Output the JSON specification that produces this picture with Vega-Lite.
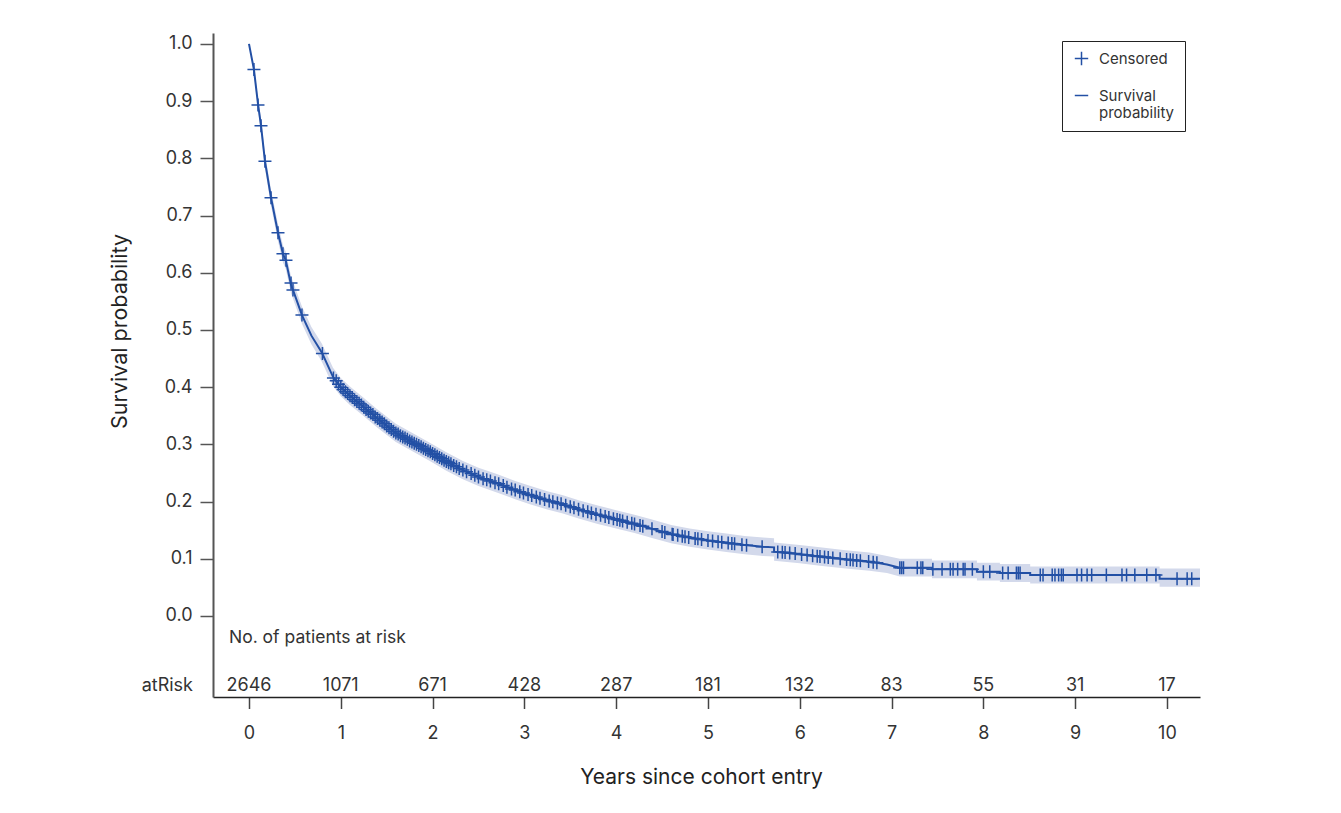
{
 "$schema": "https://vega.github.io/schema/vega-lite/v6.json",
 "width": 987,
 "height": 664,
 "autosize": {"type": "none"},
 "padding": {"left": 213, "top": 33, "right": 141, "bottom": 116},
 "background": "white",
 "config": {"view": {"stroke": null}, "font": "Inter", "text": {"font": "Inter"}},
 "datasets": {
  "km": [
   {"t":0,"s":1,"lo":1,"hi":1},
   {"t":0.054,"s":0.955,"lo":0.948,"hi":0.962},
   {"t":0.098,"s":0.895,"lo":0.885,"hi":0.905},
   {"t":0.131,"s":0.857,"lo":0.845,"hi":0.869},
   {"t":0.174,"s":0.795,"lo":0.782,"hi":0.808},
   {"t":0.24,"s":0.731,"lo":0.717,"hi":0.745},
   {"t":0.316,"s":0.67,"lo":0.655,"hi":0.685},
   {"t":0.37,"s":0.633,"lo":0.618,"hi":0.648},
   {"t":0.4,"s":0.622,"lo":0.607,"hi":0.637},
   {"t":0.458,"s":0.579,"lo":0.564,"hi":0.594},
   {"t":0.479,"s":0.57,"lo":0.555,"hi":0.585},
   {"t":0.577,"s":0.526,"lo":0.511,"hi":0.541},
   {"t":0.68,"s":0.49,"lo":0.475,"hi":0.505},
   {"t":0.795,"s":0.46,"lo":0.444,"hi":0.476},
   {"t":0.915,"s":0.418,"lo":0.402,"hi":0.434},
   {"t":1.0,"s":0.4,"lo":0.384,"hi":0.416},
   {"t":1.1,"s":0.385,"lo":0.369,"hi":0.401},
   {"t":1.245,"s":0.366,"lo":0.35,"hi":0.382},
   {"t":1.4,"s":0.345,"lo":0.329,"hi":0.361},
   {"t":1.6,"s":0.32,"lo":0.304,"hi":0.336},
   {"t":1.8,"s":0.302,"lo":0.286,"hi":0.318},
   {"t":1.97,"s":0.287,"lo":0.271,"hi":0.303},
   {"t":2.15,"s":0.27,"lo":0.254,"hi":0.286},
   {"t":2.33,"s":0.255,"lo":0.239,"hi":0.271},
   {"t":2.5,"s":0.243,"lo":0.227,"hi":0.259},
   {"t":2.7,"s":0.232,"lo":0.216,"hi":0.248},
   {"t":2.9,"s":0.22,"lo":0.204,"hi":0.236},
   {"t":3.06,"s":0.2115,"lo":0.1955,"hi":0.2275},
   {"t":3.25,"s":0.202,"lo":0.186,"hi":0.218},
   {"t":3.42,"s":0.195,"lo":0.179,"hi":0.211},
   {"t":3.6,"s":0.186,"lo":0.17,"hi":0.202},
   {"t":3.8,"s":0.177,"lo":0.161,"hi":0.193},
   {"t":4.0,"s":0.169,"lo":0.153,"hi":0.185},
   {"t":4.2,"s":0.161,"lo":0.145,"hi":0.177},
   {"t":4.4,"s":0.152,"lo":0.136,"hi":0.168},
   {"t":4.6,"s":0.143,"lo":0.127,"hi":0.159},
   {"t":4.8,"s":0.137,"lo":0.121,"hi":0.153},
   {"t":5.0,"s":0.132,"lo":0.116,"hi":0.148},
   {"t":5.2,"s":0.128,"lo":0.112,"hi":0.144},
   {"t":5.4,"s":0.124,"lo":0.108,"hi":0.14},
   {"t":5.6,"s":0.121,"lo":0.105,"hi":0.137},
   {"t":5.72,"s":0.12,"lo":0.104,"hi":0.136},
   {"t":5.72,"s":0.1125,"lo":0.0965,"hi":0.1285},
   {"t":6.0,"s":0.108,"lo":0.092,"hi":0.124},
   {"t":6.22,"s":0.104,"lo":0.088,"hi":0.12},
   {"t":6.5,"s":0.099,"lo":0.083,"hi":0.115},
   {"t":6.76,"s":0.095,"lo":0.079,"hi":0.111},
   {"t":6.95,"s":0.09,"lo":0.075,"hi":0.105},
   {"t":7.09,"s":0.0845,"lo":0.069,"hi":0.1},
   {"t":7.44,"s":0.0845,"lo":0.069,"hi":0.1},
   {"t":7.44,"s":0.0815,"lo":0.066,"hi":0.097},
   {"t":7.93,"s":0.0815,"lo":0.066,"hi":0.097},
   {"t":7.93,"s":0.0775,"lo":0.062,"hi":0.093},
   {"t":8.18,"s":0.0775,"lo":0.062,"hi":0.093},
   {"t":8.18,"s":0.0752,"lo":0.0595,"hi":0.0909},
   {"t":8.51,"s":0.0752,"lo":0.0595,"hi":0.0909},
   {"t":8.51,"s":0.0717,"lo":0.057,"hi":0.0865},
   {"t":9.92,"s":0.0717,"lo":0.057,"hi":0.0865},
   {"t":9.92,"s":0.0652,"lo":0.051,"hi":0.083},
   {"t":10.36,"s":0.0652,"lo":0.051,"hi":0.083}
  ],
  "censor": [
   {"t":0.054,"s":0.955},{"t":0.098,"s":0.893},{"t":0.131,"s":0.857},{"t":0.174,"s":0.795},
   {"t":0.24,"s":0.731},{"t":0.316,"s":0.67},{"t":0.37,"s":0.633},{"t":0.403,"s":0.622},
   {"t":0.458,"s":0.582},{"t":0.479,"s":0.57},{"t":0.577,"s":0.526},{"t":0.8,"s":0.459},
   {"t":0.92,"s":0.416},{"t":0.95,"s":0.411},{"t":0.975,"s":0.405},{"t":1.0,"s":0.4},
   {"t":1.025,"s":0.396},{"t":1.05,"s":0.392},{"t":1.075,"s":0.389},{"t":1.1,"s":0.385},
   {"t":1.125,"s":0.382},{"t":1.15,"s":0.378},{"t":1.175,"s":0.375},{"t":1.2,"s":0.372},
   {"t":1.225,"s":0.369},{"t":1.25,"s":0.365},{"t":1.275,"s":0.361},{"t":1.3,"s":0.358},
   {"t":1.325,"s":0.355},{"t":1.35,"s":0.352},{"t":1.375,"s":0.348},{"t":1.4,"s":0.345},
   {"t":1.425,"s":0.342},{"t":1.45,"s":0.339},{"t":1.475,"s":0.336},{"t":1.5,"s":0.332},
   {"t":1.525,"s":0.329},{"t":1.55,"s":0.326},{"t":1.575,"s":0.323},{"t":1.6,"s":0.32},
   {"t":1.625,"s":0.318},{"t":1.65,"s":0.315},{"t":1.675,"s":0.313},{"t":1.7,"s":0.311},
   {"t":1.725,"s":0.309},{"t":1.75,"s":0.306},{"t":1.775,"s":0.304},{"t":1.8,"s":0.302},
   {"t":1.825,"s":0.3},{"t":1.85,"s":0.298},{"t":1.875,"s":0.296},{"t":1.9,"s":0.293},
   {"t":1.925,"s":0.291},{"t":1.95,"s":0.289},{"t":1.975,"s":0.287},{"t":2.0,"s":0.284},
   {"t":2.025,"s":0.282},{"t":2.05,"s":0.279},{"t":2.075,"s":0.277},{"t":2.1,"s":0.275},
   {"t":2.125,"s":0.272},{"t":2.15,"s":0.27},{"t":2.175,"s":0.268},{"t":2.2,"s":0.266},
   {"t":2.23,"s":0.263},{"t":2.26,"s":0.261},{"t":2.29,"s":0.258},{"t":2.33,"s":0.255},
   {"t":2.37,"s":0.252},{"t":2.42,"s":0.249},{"t":2.46,"s":0.246},{"t":2.5,"s":0.243},
   {"t":2.55,"s":0.24},{"t":2.59,"s":0.238},{"t":2.63,"s":0.236},{"t":2.68,"s":0.233},
   {"t":2.72,"s":0.231},{"t":2.77,"s":0.228},{"t":2.81,"s":0.225},{"t":2.86,"s":0.222},
   {"t":2.9,"s":0.22},{"t":2.95,"s":0.217},{"t":2.99,"s":0.215},{"t":3.04,"s":0.2125},
   {"t":3.08,"s":0.2105},{"t":3.13,"s":0.208},{"t":3.17,"s":0.206},{"t":3.22,"s":0.2035},
   {"t":3.27,"s":0.201},{"t":3.31,"s":0.1995},{"t":3.36,"s":0.1975},{"t":3.4,"s":0.196},
   {"t":3.45,"s":0.1935},{"t":3.5,"s":0.191},{"t":3.54,"s":0.189},{"t":3.59,"s":0.1865},
   {"t":3.64,"s":0.184},{"t":3.69,"s":0.182},{"t":3.73,"s":0.18},{"t":3.78,"s":0.178},
   {"t":3.83,"s":0.176},{"t":3.88,"s":0.174},{"t":3.92,"s":0.172},{"t":3.97,"s":0.17},
   {"t":4.01,"s":0.1685},{"t":4.04,"s":0.1675},{"t":4.07,"s":0.166},{"t":4.12,"s":0.164},
   {"t":4.17,"s":0.162},{"t":4.2,"s":0.161},{"t":4.26,"s":0.158},{"t":4.29,"s":0.157},
   {"t":4.39,"s":0.1525},{"t":4.5,"s":0.1475},{"t":4.53,"s":0.146},{"t":4.61,"s":0.1427},
   {"t":4.62,"s":0.1424},{"t":4.67,"s":0.141},{"t":4.72,"s":0.1395},{"t":4.75,"s":0.1385},
   {"t":4.79,"s":0.1373},{"t":4.86,"s":0.1355},{"t":4.89,"s":0.1348},{"t":4.93,"s":0.1338},
   {"t":5.0,"s":0.132},{"t":5.05,"s":0.131},{"t":5.11,"s":0.1298},{"t":5.15,"s":0.129},
   {"t":5.22,"s":0.1276},{"t":5.26,"s":0.1268},{"t":5.29,"s":0.1262},{"t":5.37,"s":0.1245},
   {"t":5.42,"s":0.1237},{"t":5.59,"s":0.1212},{"t":5.76,"s":0.1119},{"t":5.81,"s":0.1112},
   {"t":5.84,"s":0.1108},{"t":5.89,"s":0.11},{"t":5.95,"s":0.1092},{"t":6.02,"s":0.1076},
   {"t":6.08,"s":0.1065},{"t":6.14,"s":0.1055},{"t":6.19,"s":0.1045},{"t":6.22,"s":0.104},
   {"t":6.27,"s":0.103},{"t":6.31,"s":0.1023},{"t":6.36,"s":0.1015},{"t":6.44,"s":0.1},
   {"t":6.51,"s":0.0989},{"t":6.55,"s":0.0982},{"t":6.58,"s":0.0977},{"t":6.62,"s":0.0971},
   {"t":6.66,"s":0.0965},{"t":6.75,"s":0.0952},{"t":6.8,"s":0.094},{"t":6.84,"s":0.093},
   {"t":7.09,"s":0.0845},{"t":7.11,"s":0.0845},{"t":7.13,"s":0.0845},{"t":7.28,"s":0.0845},
   {"t":7.32,"s":0.0845},{"t":7.34,"s":0.0845},{"t":7.45,"s":0.0815},{"t":7.55,"s":0.0815},
   {"t":7.64,"s":0.0815},{"t":7.67,"s":0.0815},{"t":7.72,"s":0.0815},{"t":7.78,"s":0.0815},
   {"t":7.8,"s":0.0815},{"t":7.88,"s":0.0815},{"t":8.0,"s":0.0775},{"t":8.07,"s":0.0775},
   {"t":8.21,"s":0.0752},{"t":8.27,"s":0.0752},{"t":8.36,"s":0.0752},{"t":8.38,"s":0.0752},
   {"t":8.4,"s":0.0752},{"t":8.62,"s":0.0717},{"t":8.65,"s":0.0717},{"t":8.75,"s":0.0717},
   {"t":8.78,"s":0.0717},{"t":8.82,"s":0.0717},{"t":8.85,"s":0.0717},{"t":8.87,"s":0.0717},
   {"t":9.02,"s":0.0717},{"t":9.07,"s":0.0717},{"t":9.13,"s":0.0717},{"t":9.18,"s":0.0717},
   {"t":9.34,"s":0.0717},{"t":9.51,"s":0.0717},{"t":9.56,"s":0.0717},{"t":9.65,"s":0.0717},
   {"t":9.78,"s":0.0717},{"t":9.88,"s":0.0717},{"t":10.11,"s":0.0652},{"t":10.22,"s":0.0652},
   {"t":10.27,"s":0.0652}
  ],
  "risk": [
   {"t":0,"n":2646},{"t":1,"n":1071},{"t":2,"n":671},{"t":3,"n":428},{"t":4,"n":287},
   {"t":5,"n":181},{"t":6,"n":132},{"t":7,"n":83},{"t":8,"n":55},{"t":9,"n":31},{"t":10,"n":17}
  ]
 },
 "layer": [
  {
   "data": {"name": "km"},
   "mark": {"type": "area", "color": "#d3d9eb", "opacity": 1},
   "encoding": {
    "x": {"field": "t", "type": "quantitative",
     "scale": {"domain": [-0.392, 10.36], "nice": false, "zero": false},
     "axis": {"title": "Years since cohort entry", "values": [0,1,2,3,4,5,6,7,8,9,10], "format": "d", "grid": false,
      "labelFontSize": 18, "labelColor": "#333", "labelBaseline": "alphabetic", "labelPadding": 30,
      "tickSize": 11.5, "tickColor": "#444", "tickWidth": 1.5, "domainColor": "#222", "domainWidth": 1.5,
      "titleFontSize": 21, "titleFontWeight": "normal", "titleColor": "#222",
      "titleX": 488, "titleY": 86, "titleBaseline": "alphabetic", "titleAlign": "center"}},
    "y": {"field": "lo", "type": "quantitative",
     "scale": {"domain": [-0.1416, 1.019], "nice": false, "zero": false},
     "axis": {"title": "Survival probability", "values": [0,0.1,0.2,0.3,0.4,0.5,0.6,0.7,0.8,0.9,1.0], "format": ".1f", "grid": false,
      "labelFontSize": 18, "labelColor": "#333", "labelPadding": 8,
      "tickSize": 13, "tickColor": "#555", "tickWidth": 1.5, "domainColor": "#555", "domainWidth": 2,
      "titleFontSize": 21.5, "titleFontWeight": "normal", "titleColor": "#222",
      "titleX": -93, "titleY": 298, "titleAngle": -90, "titleAlign": "center", "titleBaseline": "middle"}},
    "y2": {"field": "hi"}
   }
  },
  {
   "data": {"name": "km"},
   "mark": {"type": "line", "color": "#2350a5", "strokeWidth": 2},
   "encoding": {
    "x": {"field": "t", "type": "quantitative"},
    "y": {"field": "s", "type": "quantitative"}
   }
  },
  {
   "data": {"name": "censor"},
   "transform": [{"calculate": "'Censored'", "as": "type"}],
   "mark": {"type": "point", "filled": false, "strokeWidth": 1.5, "size": 169, "color": "#2350a5", "opacity": 1},
   "encoding": {
    "x": {"field": "t", "type": "quantitative"},
    "y": {"field": "s", "type": "quantitative"},
    "shape": {"field": "type", "type": "nominal",
     "scale": {"domain": ["Censored", "Survival probability"], "range": ["M-1,0H1M0,-1V1", "M-1,0H1"]},
     "legend": {"title": null, "orient": "none", "legendX": 849, "legendY": 8,
      "strokeColor": "#222", "padding": 10, "fillColor": "white", "symbolOffset": 2,
      "symbolStrokeColor": "#2350a5", "symbolStrokeWidth": 1.5, "symbolSize": 180, "symbolFillColor": "transparent",
      "labelFontSize": 15, "labelColor": "#333", "labelOffset": 10, "rowPadding": 19, "labelBaseline": "middle",
      "labelExpr": "datum.label == 'Survival probability' ? ['Survival', 'probability'] : datum.label",
      "encode": {"labels": {"update": {"lineHeight": {"value": 20}}}}}}
   }
  },
  {
   "data": {"name": "risk"},
   "mark": {"type": "text", "fontSize": 18, "color": "#333", "baseline": "middle", "align": "center"},
   "encoding": {
    "x": {"field": "t", "type": "quantitative"},
    "y": {"datum": -0.122, "type": "quantitative"},
    "text": {"field": "n", "type": "quantitative", "format": "d"}
   }
  },
  {
   "data": {"values": [{"label": "atRisk"}]},
   "mark": {"type": "text", "fontSize": 18, "color": "#333", "baseline": "middle", "align": "right"},
   "encoding": {
    "x": {"datum": -0.61, "type": "quantitative"},
    "y": {"datum": -0.122, "type": "quantitative"},
    "text": {"field": "label"}
   }
  },
  {
   "data": {"values": [{"label": "No. of patients at risk"}]},
   "mark": {"type": "text", "fontSize": 17.5, "color": "#333", "baseline": "middle", "align": "left"},
   "encoding": {
    "x": {"datum": -0.218, "type": "quantitative"},
    "y": {"datum": -0.039, "type": "quantitative"},
    "text": {"field": "label"}
   }
  }
 ]
}
